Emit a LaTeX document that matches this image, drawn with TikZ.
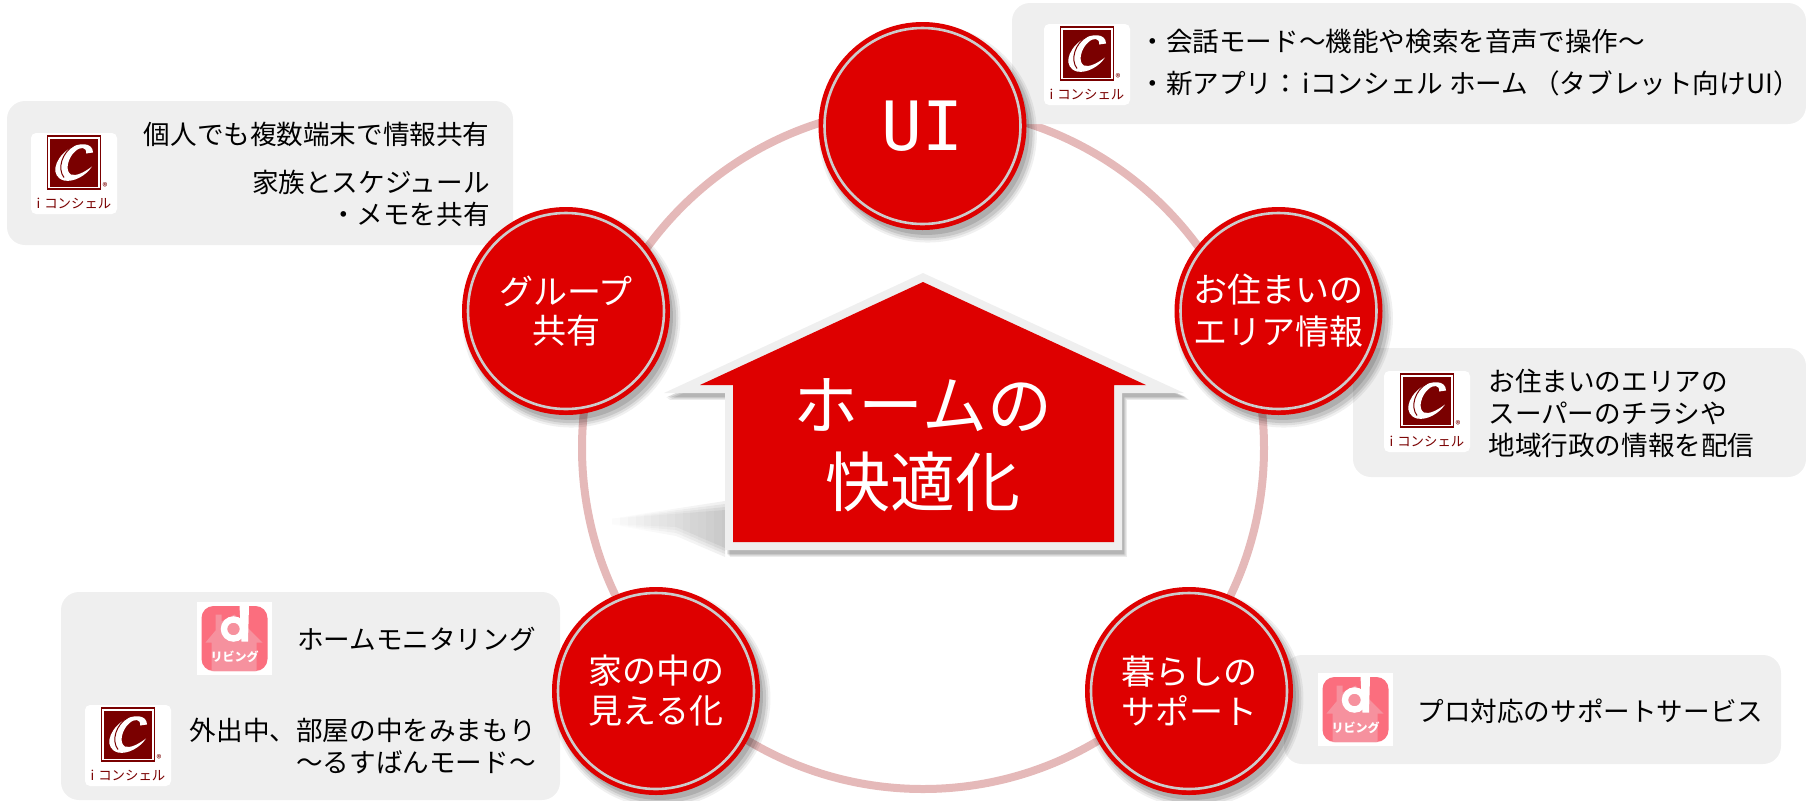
\documentclass[tikz,border=0pt]{standalone}
\usepackage{fontspec}
\setmainfont{Noto Sans CJK JP}
\newfontfamily\uifont{DejaVu Sans Mono}
\usetikzlibrary{shadows,fadings,positioning}

\definecolor{homered}{HTML}{DE0000}
\definecolor{panelgrey}{HTML}{EFEFEF}
\definecolor{ringpink}{HTML}{E5B9B9}
\definecolor{logored}{HTML}{7A0000}
\definecolor{dpink}{HTML}{FB6E7E}
\definecolor{dhouse}{HTML}{F6919E}

\tikzset{
  softdrop/.style={
    general shadow={fill=black,opacity=.06,shadow xshift=2.5pt,shadow yshift=-3.5pt,shadow scale=1.05},
    general shadow={fill=black,opacity=.08,shadow xshift=2.5pt,shadow yshift=-3.5pt,shadow scale=1.03},
    general shadow={fill=black,opacity=.10,shadow xshift=2.5pt,shadow yshift=-3.5pt,shadow scale=1.01},
    general shadow={fill=black,opacity=.12,shadow xshift=2pt,shadow yshift=-3pt,shadow scale=.99}},
  housedrop/.style={
    general shadow={fill=black,opacity=.08,shadow xshift=2.4pt,shadow yshift=-3.4pt},
    general shadow={fill=black,opacity=.10,shadow xshift=1.8pt,shadow yshift=-2.8pt},
    general shadow={fill=black,opacity=.14,shadow xshift=1.2pt,shadow yshift=-2.2pt}},
  topic/.style={circle,fill=homered,softdrop,minimum size=104pt,inner sep=0pt,text=white,align=center,
    font=\fontsize{17}{21}\selectfont,
    path picture={\draw[black!20,line width=1.3pt] (path picture bounding box.center) circle (98);}},
  panel/.style={fill=panelgrey,rounded corners=9pt,inner sep=0pt},
  info/.style={inner sep=0pt,font=\fontsize{13.3}{16}\selectfont},
  concierge/.pic={
    \fill[white,rounded corners=2.5pt] (-43,-40.5) rectangle (43,40.5);
    \draw[logored,line width=.6pt] (-26.5,-37.5) rectangle (26.5,15.5);
    \fill[logored] (-24,-35) rectangle (24,13);
    \begin{scope}[shift={(0,-11)}]
      \fill[white] (19,-10) .. controls (19,-20) and (5,-21) .. (-6,-13) .. controls (-20,-3) and (-24,14) .. (-10,18)
        .. controls (0,20) and (12,13) .. (18,4) .. controls (10,10) and (2,14) .. (-3,12)
        .. controls (-10,8) and (-5,-6) .. (1,-11) .. controls (6,-16) and (13,-16) .. (12,-9) -- cycle;
      \draw[logored,line width=.5pt] (0,-17) .. controls (-12,-10) and (-17,6) .. (-10,15);
    \end{scope}
    \node[text=logored,inner sep=0pt,font=\fontsize{6.7}{7}\selectfont] (-name) at (0,29.5) {i\kern2pt コンシェル};
    \node[text=logored,inner sep=0pt,font=\fontsize{5}{6}\selectfont] (-mark) at (31,13.5) {®};
  },
  dliving/.pic={
    \fill[white] (-37.5,-36.5) rectangle (37.5,36.5);
    \fill[dpink,rounded corners=6pt] (-33,-32.5) rectangle (33,32.5);
    \fill[dhouse] (-19,-24) -- (-13,-24) -- (-13,-17) -- (0,-24) -- (28,4) -- (22,4) -- (22,32.5) -- (-23,32.5) -- (-23,4) -- (-29,4) -- (-19,-8) -- cycle;
    \draw[white,line width=3.2pt] (-1,-9.5) circle (9.5);
    \fill[white] (5,-32.5) -- (14.5,-32.5) -- (13.5,3) -- (7,3) -- cycle;
    \node[text=white,inner sep=0pt,font=\bfseries\fontsize{6}{7}\selectfont] (-name) at (0,18.5) {リビング};
  }
}

\begin{document}
\begin{tikzpicture}[x=.5pt,y=-.5pt]
   \useasboundingbox (0,0) rectangle (1806,800);

   % ring behind everything
   \draw[ringpink,line width=4pt] (923,448) circle (341);

   % grey panels
   \node[panel,minimum width=397pt,minimum height=60.5pt] (ui_panel) at (1409,63.5) {};
   \node[panel,minimum width=253pt,minimum height=72pt] (group_panel) at (260,173) {};
   \node[panel,minimum width=226.5pt,minimum height=64.5pt] (area_panel) at (1579.5,412.5) {};
   \node[panel,minimum width=249.5pt,minimum height=104pt] (home_panel) at (310.5,696) {};
   \node[panel,minimum width=248.5pt,minimum height=54.5pt] (life_panel) at (1532.5,709.5) {};

   % ground shadow left of the house
   \foreach \d in {0,3,6,9}
     \fill[black,opacity=.06,path fading=west] (608,519) -- (725,510-\d) -- (725,548+\d) -- (676,527+\d) -- (608,524) -- cycle;

   % house
   \fill[panelgrey,housedrop] (923,273) -- (1184,393) -- (1122,393) -- (1122,550) -- (725,550) -- (725,393) -- (664,393) -- cycle;
   \fill[homered] (923,282) -- (1146,385) -- (1114,385) -- (1114,542) -- (733,542) -- (733,385) -- (700,385) -- cycle;
   \node[text=white,align=center,inner sep=0pt,font=\fontsize{32.5}{38.5}\selectfont] (home_title) at (923,445) {ホームの\\快適化};

   % topic circles
   \node[topic,font=\uifont\fontsize{34}{38}\selectfont] (ui) at (922.5,126) {UI};
   \node[topic] (area) at (1278.5,311) {お住まいの\\エリア情報};
   \node[topic,font=\fontsize{17}{20}\selectfont] (life) at (1189,691) {暮らしの\\サポート};
   \node[topic,font=\fontsize{17}{20}\selectfont] (home) at (656,691) {家の中の\\見える化};
   \node[topic,font=\fontsize{17}{19.5}\selectfont] (group) at (566,311) {グループ\\共有};

   % app icons
   \pic (ic_ui) at (1087,64.5) {concierge};
   \pic (ic_group) at (74,173.5) {concierge};
   \pic (ic_area) at (1427,411.5) {concierge};
   \pic (ic_watch) at (128,745.5) {concierge};
   \pic (dl_home) at (234.5,638.5) {dliving};
   \pic (dl_life) at (1355.5,709.5) {dliving};

   % panel texts
   \node[info,anchor=west] (ui_a) at (1139,41.5) {・会話モード～機能や検索を音声で操作～};
   \node[info,anchor=west] (ui_b) at (1139,83) {・新アプリ：\kern2pt iコンシェル ホーム\kern2.5pt（タブレット向けUI）};
   \node[info,anchor=east] (group_a) at (490,134) {個人でも複数端末で情報共有};
   \node[info,anchor=east,align=right] (group_b) at (490,198) {家族とスケジュール\\・メモを共有};
   \node[info,anchor=west,align=left] (area_a) at (1488,413.5) {お住まいのエリアの\\スーパーのチラシや\\地域行政の情報を配信};
   \node[info,anchor=east] (home_a) at (536,639) {ホームモニタリング};
   \node[info,anchor=east,align=right] (home_b) at (536,746) {外出中、部屋の中をみまもり\\～るすばんモード～};
   \node[info,anchor=west] (life_a) at (1417,711) {プロ対応のサポートサービス};
\end{tikzpicture}
\end{document}
